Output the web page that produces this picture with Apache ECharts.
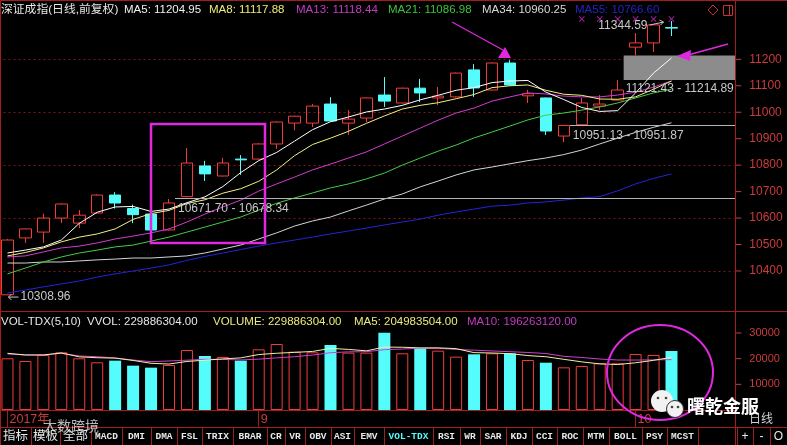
<!DOCTYPE html>
<html><head><meta charset="utf-8">
<script src="https://cdn.jsdelivr.net/npm/echarts@6/dist/echarts.min.js"></script>
<style>html,body{margin:0;padding:0;background:#000;}#c{width:787px;height:445px;}</style>
</head><body><div id="c"></div>
<script>
// ---------------- data ----------------
const dates = ['2017-08-14','2017-08-15','2017-08-16','2017-08-17','2017-08-18','2017-08-21','2017-08-22','2017-08-23','2017-08-24','2017-08-25','2017-08-28','2017-08-29','2017-08-30','2017-08-31','2017-09-01','2017-09-04','2017-09-05','2017-09-06','2017-09-07','2017-09-08','2017-09-11','2017-09-12','2017-09-13','2017-09-14','2017-09-15','2017-09-18','2017-09-19','2017-09-20','2017-09-21','2017-09-22','2017-09-25','2017-09-26','2017-09-27','2017-09-28','2017-09-29','2017-10-09','2017-10-10','2017-10-11'];
const emptySlots = ['', ' ', '  '];
const opens  = [10310,10525,10547,10600,10581,10619,10687,10636,10615,10555,10681,10797,10759,10823,10823,10880,10959,10959,11031,10959,10978,11065,11035,11091,11054,11058,11160,11084,11186,11062,11054,10910,10953,11023,11046,11246,11262,11320];
const closes = [10517,10559,10600,10653,10611,10687,10657,10613,10555,10657,10808,10767,10808,10820,10880,10963,10985,11023,10967,10974,11054,11042,11091,11073,11061,11148,11092,11186,11103,11070,10929,10950,11035,11031,11084,11262,11330,11318];
const lows   = [10308.96,10506,10506,10581,10562,10617,10636,10581,10551,10553,10678.34,10740,10757,10763,10821,10861,10932,10944,10965,10914,10963,11020,11033,11039,11027,11056,11058,11082,11101,11035,10914,10887,10951.87,11008,11044,11214.89,11228,11288];
const highs  = [10521,10561,10616,10656,10630,10690,10698,10651,10622,10671.70,10865,10816,10827,10838,10883,10966,10987,11031,11057,11008,11056,11133,11093,11126,11095,11150,11182,11188,11197,11084,11056,10951.13,11054,11065,11121.43,11299,11332,11344.59];
const ma5  = [10468,10479,10491,10517,10580,10622,10642,10644,10625,10634,10658,10680,10719,10772,10817,10848,10891,10934,10964,10982,11001,11012,11026,11047,11064,11083,11093,11112,11118,11120,11076,11048,11018,11003,11006,11073,11148,11204.95];
const ma8  = [10457,10470,10487,10510,10528,10540,10559,10595,10617,10629,10655,10669,10694,10711,10739,10782,10836,10878,10902,10928,10958,10986,11012,11026,11036,11051,11067,11093,11100,11103,11083,11068,11064,11050,11049,11058,11087,11117.88];
const ma13 = [10453,10457,10472,10487,10494,10506,10521,10532,10544,10559,10585,10615,10642,10668,10702,10729,10755,10782,10804,10827,10850,10880,10910,10940,10970,10997,11016,11042,11058,11073,11069,11061,11058,11058,11065,11076,11095,11118.44];
const ma21 = [10389,10411,10434,10453,10468,10479,10491,10498,10513,10528,10547,10566,10585,10604,10630,10656,10676,10695,10714,10729,10748,10770,10800,10827,10853,10876,10903,10925,10948,10971,10989,10997,11008,11020,11035,11054,11073,11086.98];
const ma34 = [10430,10430,10434,10434,10438,10442,10445,10449,10449,10453,10457,10468,10483,10498,10521,10544,10570,10589,10604,10627,10649,10672,10691,10718,10740,10763,10782,10793,10805,10817,10827,10840,10857,10880,10902,10924,10943,10960.25];
const ma55 = [10317,10328,10340,10351,10362,10377,10389,10400,10411,10423,10440,10455,10468,10481,10494,10506,10517,10528,10540,10551,10562,10574,10585,10596,10611,10623,10634,10645,10649,10657,10661,10668,10676,10681,10703,10729,10750,10766.60];
const volumes = [20140,19090,21430,22470,20140,18580,19220,17270,16490,17530,23370,21040,20650,19220,23630,25710,22730,22470,25320,22340,22340,30130,22080,24030,23110,20780,21690,22080,22080,19480,18430,16620,17140,18180,18180,21820,21430,22990];
const volMa5  = [22090,21430,21430,22210,20700,20360,20200,19300,18200,17900,18900,19400,19900,20300,21600,22100,22450,22800,24000,23600,23050,24500,24450,24180,24200,23900,22340,22200,21950,21200,20750,19740,18750,17970,17710,18390,19350,20498];
const volMa10 = [21820,21430,21430,22090,21040,20770,20260,19480,18820,19100,19400,19750,19700,19500,19800,20300,20760,21400,22300,22650,22700,23500,23750,24060,24030,23600,23300,23000,22700,22400,22000,20900,20450,19850,19470,19450,19520,19626];
const priceTicks = [10400,10500,10600,10700,10800,10900,11000,11100,11200];
const priceGridTicks = [10400,10600,10800,11000,11200];
const volTicks = [10000,20000,30000];
const signalIdx = [32,33,34,35,36,37];
const signalLevel = 11352;
const gapLines = [{lo:10671.70, hi:10678.34, from:9}, {lo:10951.13, hi:10951.87, from:31}];
const gapZone = {lo:11121.43, hi:11214.89, from:34};
const lowMark = {idx:0, value:10308.96};
const highMark = {idx:37, value:11344.59};
const titleItems = [
  ['深证成指(日线,前复权)', '#e6e6e6'], ['MA5: 11204.95', '#f0f0f0'], ['MA8: 11117.88', '#ecec7a'],
  ['MA13: 11118.44', '#c43cc4'], ['MA21: 11086.98', '#3cc43c'], ['MA34: 10960.25', '#d8d8d8'], ['MA55: 10766.60', '#2424c8']];
const volHeader = [
  ['VOL-TDX(5,10)', '#e6e6e6'], ['VVOL: 229886304.00', '#e6e6e6'], ['VOLUME: 229886304.00', '#ecec7a'],
  ['MA5: 204983504.00', '#ecec7a'], ['MA10: 196263120.00', '#c43cc4']];
const tabLabels = ['指标','模板','全部','MACD','DMI','DMA','FSL','TRIX','BRAR','CR','VR','OBV','ASI','EMV','VOL-TDX','RSI','WR','SAR','KDJ','CCI','ROC','MTM','BOLL','PSY','MCST'];
const tabActive = 'VOL-TDX';
const sideButtons = ['+','-','O'];

// ---------------- styling / layout ----------------
const FRAME = '#a21e1e', AXR = '#cc3c3c', UP = '#f23c3c', DOWN = '#54fcfc', MAG = '#e028e0';
const SANS = "'Liberation Sans','Noto Sans CJK SC',sans-serif";
const categories = dates.concat(emptySlots);
const monthStart = i => i < dates.length && (i === 0 || dates[i].slice(5,7) !== dates[i-1].slice(5,7));
const dateLabel = i => i === 0 ? dates[0].slice(0,4) + '年' : String(parseInt(dates[i].slice(5,7), 10));
const tickRich = (size) => ({
  t: {width: 6, height: 1, backgroundColor: AXR, verticalAlign: 'middle'},
  v: {color: AXR, fontSize: size, fontFamily: SANS, padding: [0,0,0,8], verticalAlign: 'middle'}
});
const gridColors = [];
for (let v = 10200; v <= 11400; v += 100) gridColors.push(priceGridTicks.includes(v) ? '#7a1616' : 'rgba(0,0,0,0)');

const line = (name, data, color, xi, yi, z) => ({
  name, type: 'line', xAxisIndex: xi, yAxisIndex: yi, data, symbol: 'none', showSymbol: false,
  lineStyle: {color, width: 1}, silent: true, z: z || 4, animation: false
});

const option = {
  backgroundColor: '#000',
  animation: false,
  grid: [
    {left: -1.5, width: 735.8, top: 6.4, height: 317.5, outerBoundsMode: 'none', show: false},
    {left: -1.5, width: 735.8, top: 307.3, height: 102.7, outerBoundsMode: 'none', show: false}
  ],
  xAxis: [
    {type: 'category', gridIndex: 0, data: categories, boundaryGap: true, show: false},
    {type: 'category', gridIndex: 1, data: categories, boundaryGap: true,
     axisLine: {show: true, lineStyle: {color: FRAME, width: 1}},
     axisTick: {show: true, alignWithLabel: true, interval: (i) => monthStart(i), length: 17, lineStyle: {color: FRAME}},
     axisLabel: {show: true, interval: (i) => monthStart(i), formatter: (v, i) => dateLabel(i), color: AXR,
                 fontSize: 12.5, fontFamily: SANS, align: 'left', margin: 3, padding: [0,0,0,2]},
     splitLine: {show: false}}
  ],
  yAxis: [
    {type: 'value', gridIndex: 0, position: 'right', min: 10200, max: 11400, interval: 100, scale: false,
     axisLine: {show: false}, axisTick: {show: false},
     axisLabel: {show: true, margin: 1, formatter: v => priceTicks.includes(v) ? '{t|}{v|' + v + '}' : '', rich: tickRich(12)},
     splitLine: {show: true, lineStyle: {color: gridColors, type: [2, 3], width: 1}}},
    {type: 'value', gridIndex: 1, position: 'right', min: 0, max: 40000, interval: 10000,
     axisLine: {show: false}, axisTick: {show: false},
     axisLabel: {show: true, margin: 1, formatter: v => volTicks.includes(v) ? '{t|}{v|' + v + '}' : '', rich: tickRich(11)},
     splitLine: {show: false}}
  ],
  series: [
    {name: 'K', type: 'candlestick', xAxisIndex: 0, yAxisIndex: 0, barWidth: 12, silent: true, z: 3,
     data: dates.map((d, i) => [opens[i], closes[i], lows[i], highs[i]]),
     itemStyle: {color: 'rgba(0,0,0,0)', color0: DOWN, borderColor: UP, borderColor0: DOWN, borderWidth: 1}},
    line('MA55', ma55, '#2424d8', 0, 0),
    line('MA34', ma34, '#d4d4d4', 0, 0),
    line('MA21', ma21, '#44cc44', 0, 0),
    line('MA13', ma13, '#d23cd2', 0, 0),
    line('MA8', ma8, '#f2f07e', 0, 0),
    line('MA5', ma5, '#ffffff', 0, 0),
    {name: 'signal', type: 'scatter', xAxisIndex: 0, yAxisIndex: 0, silent: true, z: 5,
     symbol: 'path://M0,1L1,0L5,4L9,0L10,1L6,5L10,9L9,10L5,6L1,10L0,9L4,5Z', symbolSize: 6,
     itemStyle: {color: MAG}, data: signalIdx.map(i => [i, signalLevel])},
    {name: 'VOL', type: 'bar', xAxisIndex: 1, yAxisIndex: 1, barWidth: 12, silent: true, z: 3,
     data: volumes.map((v, i) => ({value: v, itemStyle: closes[i] < opens[i]
        ? {color: DOWN, borderColor: DOWN, borderWidth: 0}
        : {color: 'rgba(0,0,0,0)', borderColor: UP, borderWidth: 1}}))},
    line('VMA10', volMa10, '#d040d0', 1, 1),
    line('VMA5', volMa5, '#f0f0a8', 1, 1)
  ]
};

const chart = echarts.init(document.getElementById('c'), null, {renderer: 'canvas', width: 787, height: 445});
chart.setOption(option);

// ---------------- overlays ----------------
const px = i => chart.convertToPixel({xAxisIndex: 0}, i);
const py = v => chart.convertToPixel({yAxisIndex: 0}, v);
const G = [];
const L = (x1, y1, x2, y2, stroke, lw, z) => G.push({type: 'line', silent: true, z: z || 50,
  shape: {x1, y1, x2, y2}, style: {stroke, lineWidth: lw || 1}});
const T = (x, y, text, fill, font, align, z) => G.push({type: 'text', silent: true, z: z || 60, x, y,
  style: {text, fill, font, align: align || 'left', verticalAlign: 'middle', textAlign: align || 'left', textVerticalAlign: 'middle'}});

// frame
L(0, 0.5, 787, 0.5, FRAME);
L(0.5, 0, 0.5, 445, FRAME);
L(735.5, 0, 735.5, 445, FRAME);
L(0, 311.5, 787, 311.5, FRAME);
L(0, 427.5, 787, 427.5, FRAME);

// title
const titleX = [1, 124, 209, 296, 388, 482, 575];
titleItems.forEach((t, k) => T(titleX[k], 9.5, t[0], t[1], (k === 0 ? '11.8px ' : '11.5px ') + SANS));
G.push({type: 'polygon', silent: true, z: 60, shape: {points: [[713, 5], [718, 10], [713, 15], [708, 10]]}, style: {fill: 'none', stroke: '#c83232', lineWidth: 1}});
G.push({type: 'rect', silent: true, z: 60, shape: {x: 723.5, y: 5.5, width: 9, height: 10}, style: {fill: 'none', stroke: '#c83232', lineWidth: 1}});
L(729.5, 5.5, 729.5, 15.5, '#c83232', 1, 60);

// volume header
const volX = [1, 87, 213, 354, 467];
volHeader.forEach((t, k) => T(volX[k], 322, t[0], t[1], '11.5px ' + SANS));

// gaps
const gapFill = '#8c8c8c', gapText = '#c8c8c8';
gapLines.forEach(g => {
  const y = Math.round(py((g.lo + g.hi) / 2)) + 0.5;
  const x0 = px(g.from) + 6;
  L(x0, y, 735, y, '#b4b4b4', 1, 6);
  T(x0 + 3, y + 10, g.lo.toFixed(2) + ' - ' + g.hi.toFixed(2), gapText, '12px ' + SANS, 'left', 7);
});
{
  const yT = py(gapZone.hi), yB = py(gapZone.lo), x0 = px(gapZone.from) + 6;
  G.push({type: 'rect', silent: true, z: 1, shape: {x: x0, y: yT, width: 735 - x0, height: yB - yT}, style: {fill: gapFill}});
  G.push({type: 'text', silent: true, z: 7, x: x0 + 2, y: yB + 9,
    style: {text: gapZone.lo.toFixed(2) + ' - ' + gapZone.hi.toFixed(2), fill: gapText, font: '12px ' + SANS,
            verticalAlign: 'middle', textVerticalAlign: 'middle', width: 735 - x0 - 2, overflow: 'truncate', ellipsis: ''}});
}

// low / high labels
{
  const y = py(lowMark.value) + 2, x = px(lowMark.idx);
  L(x + 1, y, x + 11, y, '#c8c8c8', 1, 60);
  L(x + 1, y, x + 4, y - 3, '#c8c8c8', 1, 60);
  L(x + 1, y, x + 4, y + 3, '#c8c8c8', 1, 60);
  T(x + 13, y, lowMark.value.toFixed(2), '#c8c8c8', '12px ' + SANS);
  const yh = py(highMark.value), xh = px(highMark.idx);
  T(xh - 24, yh + 5, highMark.value.toFixed(2), '#c8c8c8', '12px ' + SANS, 'right');
  L(xh - 22, yh + 4, xh - 8, yh + 1, '#c8c8c8', 1, 60);
  L(xh - 8, yh + 1, xh - 12, yh - 1, '#c8c8c8', 1, 60);
  L(xh - 8, yh + 1, xh - 11, yh + 4, '#c8c8c8', 1, 60);
}

// hand-drawn magenta marks
G.push({type: 'rect', silent: true, z: 100, shape: {x: 151, y: 124, width: 114, height: 119}, style: {fill: 'none', stroke: MAG, lineWidth: 2.5}});
L(452, 22, 503, 50, MAG, 1.2, 100);
G.push({type: 'polygon', silent: true, z: 100, shape: {points: [[498, 58], [511, 58], [505, 47]]}, style: {fill: MAG}});
L(728, 44, 688, 55, MAG, 1.5, 100);
G.push({type: 'polygon', silent: true, z: 100, shape: {points: [[677, 56], [691, 50], [690, 61]]}, style: {fill: MAG}});
G.push({type: 'ellipse', silent: true, z: 100, shape: {cx: 660, cy: 372.5, rx: 53, ry: 47.5}, style: {fill: 'none', stroke: MAG, lineWidth: 2}});

// tab bar
const seps = [31, 60, 91, 122, 151, 177, 202, 233, 267, 285, 305, 331, 354, 384, 433, 460, 480, 506, 532, 557, 583, 609, 642, 667, 698];
let prev = 0;
tabLabels.forEach((t, k) => {
  const cx = (prev + seps[k]) / 2;
  const cjk = /[\u4e00-\u9fff]/.test(t);
  T(cx, 437, t, t === tabActive ? DOWN : '#e8e8e8', cjk ? '12.5px ' + SANS : 'bold 9.5px \'Liberation Mono\',monospace', 'center', 60);
  L(seps[k] + 0.5, 428, seps[k] + 0.5, 445, FRAME, 1, 55);
  prev = seps[k];
});
const sideSeps = [737, 753, 770, 787];
sideButtons.forEach((t, k) => {
  T((sideSeps[k] + sideSeps[k + 1]) / 2, 437, t, '#e8e8e8', '12px ' + SANS, 'center', 60);
  L(sideSeps[k] + 0.5, 428, sideSeps[k] + 0.5, 445, FRAME, 1, 55);
});

// watermarks
T(43, 427, '大数跨境', 'rgba(255,255,255,0.72)', '14px ' + SANS, 'left', 110);
G.push({type: 'circle', silent: true, z: 110, shape: {cx: 662, cy: 401, r: 11}, style: {fill: '#f2f2f2'}});
G.push({type: 'circle', silent: true, z: 111, shape: {cx: 675, cy: 409, r: 8.5}, style: {fill: '#f2f2f2', stroke: '#333', lineWidth: 1}});
[[658, 398], [666, 398], [672, 407], [678, 407]].forEach(p => G.push({type: 'circle', silent: true, z: 112, shape: {cx: p[0], cy: p[1], r: 1.3}, style: {fill: '#444'}}));
T(687, 408, '曙乾金服', '#ffffff', 'bold 18px ' + SANS, 'left', 110);
T(749, 420, '日线', '#d0d0d0', '12px ' + SANS, 'left', 109);

chart.setOption({graphic: G});
</script>
</body></html>
